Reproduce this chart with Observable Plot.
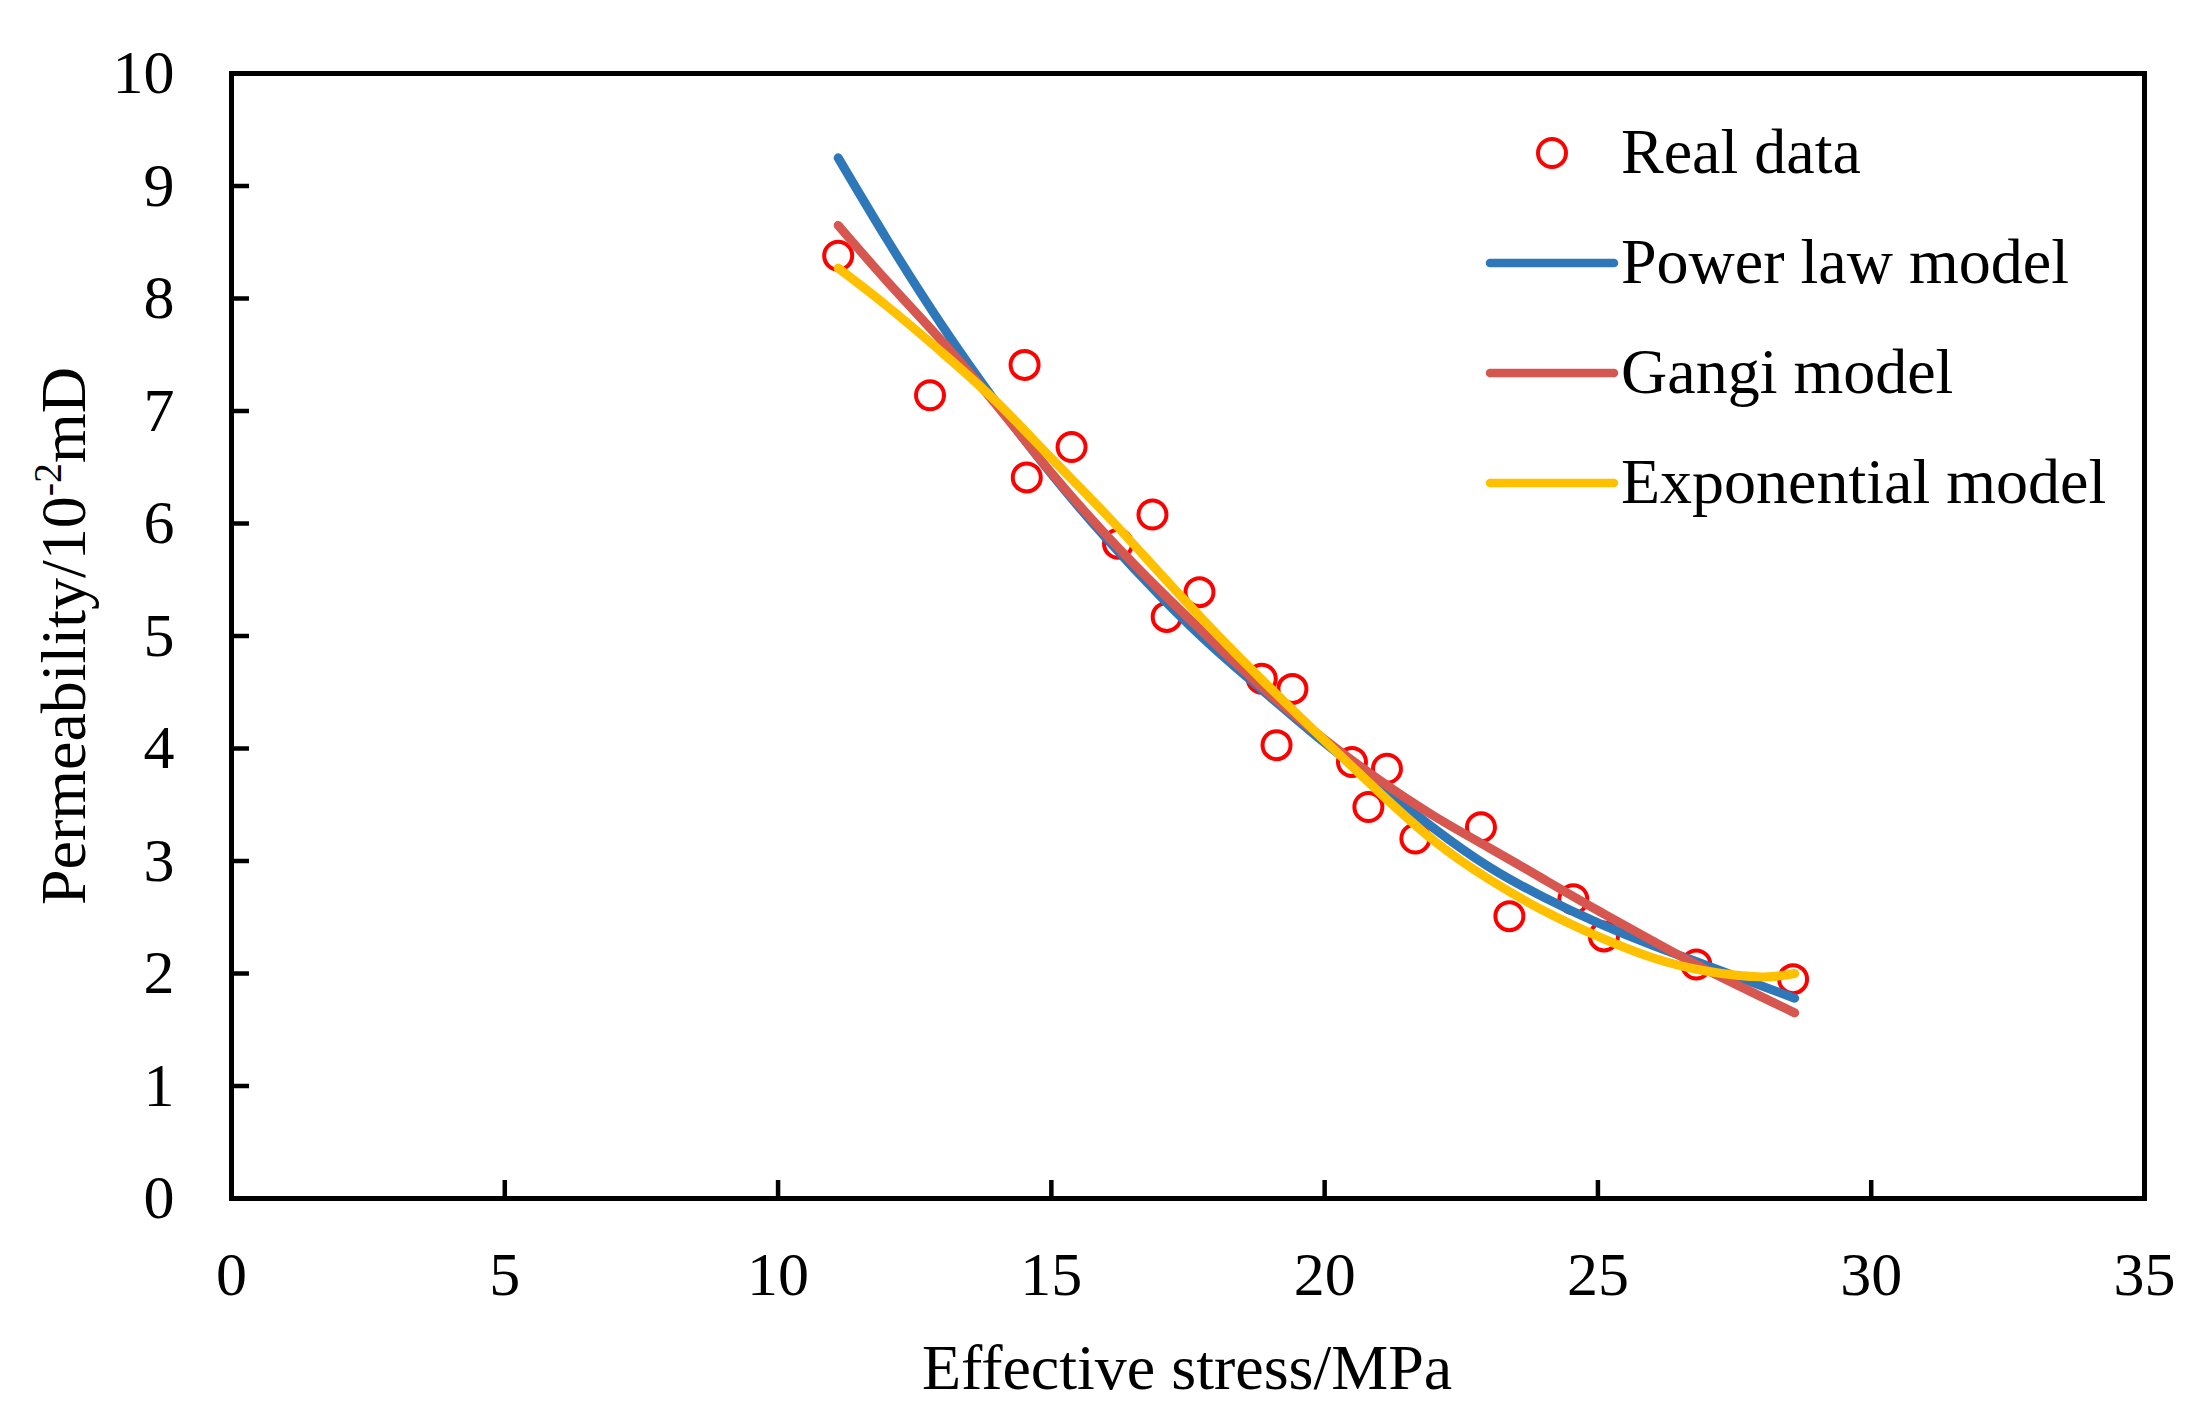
<!DOCTYPE html>
<html>
<head>
<meta charset="utf-8">
<script src="https://cdn.jsdelivr.net/npm/d3@7"></script>
<script src="https://cdn.jsdelivr.net/npm/@observablehq/plot@0.6"></script>
<style>
  body { margin: 0; background: #fff; }
  #wrap { position: relative; width: 2208px; height: 1423px; font-family: "Liberation Serif", "Times New Roman", serif; color: #000; }
  #wrap svg { position: absolute; left: 0; top: 0; }
  .xtitle { position: absolute; left: 1187px; top: 1336px; transform: translateX(-50%); font-size: 64px; line-height: 64px; white-space: nowrap; }
  .ytitle { position: absolute; left: 64px; top: 636px; transform: translate(-50%, -50%) rotate(-90deg); font-size: 64px; line-height: 64px; white-space: nowrap; }
  .ytitle sup { font-size: 40px; vertical-align: 24px; line-height: 0; }
  .leg { position: absolute; font-size: 64px; line-height: 64px; white-space: nowrap; }
  .legsym { position: absolute; }
</style>
</head>
<body>
<div id="wrap"></div>
<script>
// Real data (effective stress MPa, permeability 10^-2 mD)
const stress = [11.10, 12.78, 14.51, 14.55, 15.37, 16.22, 16.85, 17.11, 17.71, 18.85, 19.41, 19.12, 20.50, 21.14, 20.80, 21.66, 22.86, 23.38, 24.55, 25.11, 26.80, 28.57];
const perm   = [8.38, 7.14, 7.41, 6.41, 6.68, 5.82, 6.08, 5.17, 5.39, 4.62, 4.53, 4.03, 3.88, 3.82, 3.48, 3.20, 3.30, 2.51, 2.66, 2.33, 2.08, 1.95];

// Fitted curves
const powerX = [11.10, 12, 13, 14, 15, 16, 17, 18, 19, 20, 21, 22, 23, 24, 25, 26, 27, 28.60];
const powerY = [9.25, 8.52, 7.76, 7.07, 6.44, 5.87, 5.35, 4.88, 4.46, 4.05, 3.67, 3.29, 2.95, 2.68, 2.45, 2.25, 2.07, 1.78];

const gangiX = [11.10, 12, 13, 14, 15, 16, 17, 18, 19, 20, 21, 22, 23, 24, 25, 26, 27, 28.60];
const gangiY = [8.65, 8.15, 7.62, 7.05, 6.45, 5.90, 5.40, 4.93, 4.48, 4.08, 3.72, 3.40, 3.12, 2.84, 2.56, 2.29, 2.03, 1.65];

const expX = [11.10, 12, 13, 14, 15, 16, 17, 18, 19, 20, 21, 22, 23, 24, 25, 26, 27, 28, 28.60];
const expY = [8.27, 7.93, 7.52, 7.08, 6.58, 6.08, 5.55, 5.03, 4.54, 4.07, 3.61, 3.18, 2.84, 2.56, 2.33, 2.14, 2.02, 1.97, 2.00];

const xTicks = [0, 5, 10, 15, 20, 25, 30, 35];
const yTicks = [0, 1, 2, 3, 4, 5, 6, 7, 8, 9, 10];

const seriesNames = ["Real data", "Power law model", "Gangi model", "Exponential model"];
const seriesColors = ["#FF0000", "#2E78BA", "#D6574F", "#FFC000"];

const toRows = (xs, ys) => xs.map((x, i) => ({x, y: ys[i]}));
const pts = toRows(stress, perm);
const power = toRows(powerX, powerY);
const gangi = toRows(gangiX, gangiY);
const expo = toRows(expX, expY);

const chart = Plot.plot({
  width: 2208,
  height: 1423,
  marginLeft: 231,
  marginRight: 64,
  marginTop: 73,
  marginBottom: 225,
  style: { fontFamily: "'Liberation Serif', 'Times New Roman', serif", background: "#fff", color: "#000" },
  x: { domain: [0, 35] },
  y: { domain: [0, 10] },
  marks: [
    Plot.dot(pts, { x: "x", y: "y", r: 14, stroke: seriesColors[0], strokeWidth: 4, fill: "none" }),
    Plot.line(power, { x: "x", y: "y", stroke: seriesColors[1], strokeWidth: 9, curve: "natural", strokeLinecap: "round" }),
    Plot.line(gangi, { x: "x", y: "y", stroke: seriesColors[2], strokeWidth: 9, curve: "natural", strokeLinecap: "round" }),
    Plot.line(expo, { x: "x", y: "y", stroke: seriesColors[3], strokeWidth: 9, curve: "natural", strokeLinecap: "round" }),
    Plot.frame({ stroke: "#000", strokeWidth: 5 }),
    Plot.axisX(xTicks, { tickSize: -18, tickPadding: 70, fontSize: 62, strokeWidth: 4.5, label: null, tickFormat: d => String(d) }),
    Plot.axisY(yTicks, { tickSize: -18, tickPadding: 75, fontSize: 62, strokeWidth: 4.5, label: null, tickFormat: d => String(d) })
  ]
});

const wrap = document.getElementById("wrap");
wrap.appendChild(chart);

// Axis titles
const xt = document.createElement("div");
xt.className = "xtitle";
xt.textContent = "Effective stress/MPa";
wrap.appendChild(xt);

const yt = document.createElement("div");
yt.className = "ytitle";
yt.innerHTML = "Permeability/10<sup>-2</sup>mD";
wrap.appendChild(yt);

// Legend (inside the plot frame, upper right)
seriesNames.forEach((name, i) => {
  const cy = 153 + i * 110;
  const sym = d3.select(wrap).append("svg")
    .attr("class", "legsym")
    .attr("width", 140).attr("height", 40)
    .style("left", "1482px").style("top", (cy - 20) + "px");
  if (i === 0) {
    sym.append("circle").attr("cx", 70).attr("cy", 20).attr("r", 14)
      .attr("fill", "none").attr("stroke", seriesColors[0]).attr("stroke-width", 4);
  } else {
    sym.append("line").attr("x1", 8).attr("x2", 132).attr("y1", 20).attr("y2", 20)
      .attr("stroke", seriesColors[i]).attr("stroke-width", 8.5).attr("stroke-linecap", "round");
  }
  d3.select(wrap).append("div").attr("class", "leg")
    .style("left", "1621px").style("top", (cy - 33) + "px")
    .text(name);
});
</script>
</body>
</html>
